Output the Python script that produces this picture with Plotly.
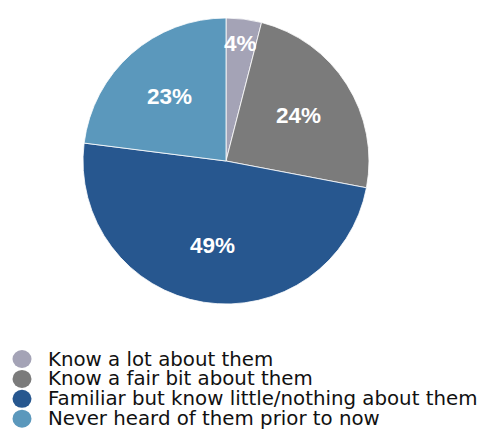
import math
import plotly.graph_objects as go

categories = ["Know a lot about them", "Know a fair bit about them",
              "Familiar but know little/nothing about them", "Never heard of them prior to now"]
values = [4, 24, 49, 23]
colors = ["#a4a3b6", "#7b7b7b", "#27578f", "#5b98bc"]

W, H = 482, 444
cx, cy, R = 226, 161, 143

fig = go.Figure()
fig.add_trace(go.Pie(
    labels=categories, values=values, sort=False, direction="clockwise", rotation=0,
    marker=dict(colors=colors, line=dict(color="white", width=0.8)),
    textinfo="none", showlegend=False, hoverinfo="label+percent",
    domain=dict(x=[(cx - R) / W, (cx + R) / W], y=[1 - (cy + R) / H, 1 - (cy - R) / H]),
))

annots, shapes = [], []
# slice value labels placed at the angular middle of each slice
total = sum(values)
cum = 0
for v in values:
    mid = (cum + v / 2) / total * 2 * math.pi
    cum += v
    rf = 0.83 if v / total < 0.08 else 0.6
    x = cx + rf * R * math.sin(mid)
    y = cy - rf * R * math.cos(mid)
    annots.append(dict(text=f"{v}%", xref="paper", yref="paper", x=x / W, y=1 - y / H,
                       xanchor="center", yanchor="middle", showarrow=False,
                       font=dict(family="Liberation Sans", size=22.5, color="white", weight="bold")))

# legend drawn manually
top, row = 359, 19.9
for i, (lab, col) in enumerate(zip(categories, colors)):
    yc = top + i * row
    shapes.append(dict(type="circle", xref="paper", yref="paper",
                       x0=(22 - 9.5) / W, x1=(22 + 9.5) / W,
                       y0=1 - (yc + 9) / H, y1=1 - (yc - 9) / H,
                       fillcolor=col, line=dict(width=0)))
    annots.append(dict(text=lab, xref="paper", yref="paper", x=46 / W, y=1 - yc / H,
                       xanchor="left", yanchor="middle", showarrow=False,
                       font=dict(family="DejaVu Sans", size=19.8, color="#111111")))

fig.update_layout(width=W, height=H, margin=dict(l=0, r=0, t=0, b=0),
                  paper_bgcolor="white", plot_bgcolor="white",
                  shapes=shapes, annotations=annots)
fig.write_html("out.html")
